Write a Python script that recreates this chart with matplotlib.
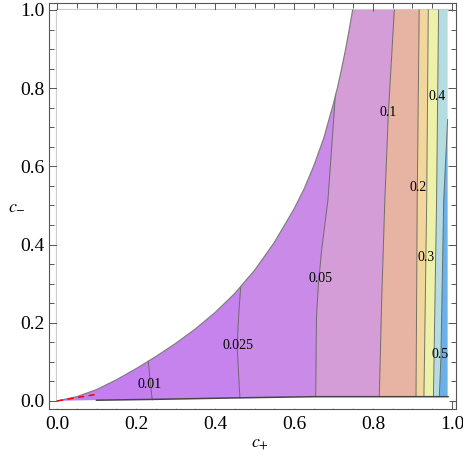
import numpy as np
import matplotlib
matplotlib.use("Agg")
import matplotlib.pyplot as plt

plt.rcParams['font.family'] = ['Liberation Serif', 'DejaVu Serif']
plt.rcParams['mathtext.fontset'] = 'stix'

# edge of the domain (above it the plot is empty)
edge_cp = [0, 0.05, 0.10, 0.15, 0.20, 0.25, 0.30, 0.35, 0.40, 0.45, 0.50,
           0.55, 0.60, 0.625, 0.65, 0.675, 0.70, 0.71, 0.72, 0.73, 0.74, 0.7485]
edge_cm = [0, 0.011, 0.029, 0.054, 0.0825, 0.1135, 0.147, 0.184, 0.226, 0.275, 0.334,
           0.405, 0.491, 0.541, 0.601, 0.671, 0.761, 0.801, 0.847, 0.896, 0.951, 1.0]
low_cp = [0, 0.10, 0.24, 0.46, 0.65, 0.99]
low_cm = [0, 0.002, 0.004, 0.008, 0.011, 0.011]

# contour lines: c+ positions at given c- values
levels = ['0.01', '0.025', '0.05', '0.1', '0.2', '0.3', '0.4', '0.5']
line_cp = [
    [0.241, 0.236, 0.231],
    [0.463, 0.456, 0.460, 0.465],
    [0.655, 0.657, 0.662, 0.670, 0.686, 0.705],
    [0.816, 0.822, 0.830, 0.839, 0.854],
    [0.909, 0.912, 0.917],
    [0.929, 0.936, 0.940],
    [0.953, 0.961, 0.966],
    [0.968, 0.972, 0.979, 0.989],
]
line_cm = [
    [0.003, 0.05, 0.102],
    [0.008, 0.14, 0.22, 0.292],
    [0.011, 0.217, 0.30, 0.386, 0.514, 0.785],
    [0.011, 0.258, 0.514, 0.737, 1.0],
    [0.011, 0.514, 1.0],
    [0.011, 0.514, 1.0],
    [0.011, 0.514, 1.0],
    [0.011, 0.113, 0.514, 0.72],
]
right_cp = [0.989, 0.989]
right_cm = [0.0, 1.0]

band_colors = ['#c47ef0', '#c683ee', '#c98ae8', '#d59dd8', '#e7b3a2',
               '#f3d69b', '#eef1a8', '#b5dce1', '#6cb0e8']

label_pos = [(0.235, 0.041), (0.458, 0.141), (0.666, 0.312), (0.838, 0.737),
             (0.914, 0.545), (0.934, 0.366), (0.962, 0.780), (0.970, 0.118)]

# red dashed segment near origin
red_cp = [0.0, 0.10]
red_cm = [0.0, 0.017]


def band_poly(ax_, ay_, bx_, by_):
    pts = list(zip(ax_, ay_)) + [(ax_[-1], 1.0), (bx_[-1], 1.0)]
    pts += list(zip(bx_, by_))[::-1]
    return np.array(pts)


def main():
    fig = plt.figure(figsize=(4.63, 4.55), dpi=100)
    ax = fig.add_axes([49 / 463, 46 / 455, 406.5 / 463, 406 / 455])

    # light frame of the plot range
    ax.plot([0, 0], [0, 1], color='#cccccc', lw=1.6, zorder=0.5)
    ax.plot([0, 1.0], [1, 1], color='#cccccc', lw=1.6, zorder=0.5)

    lefts = [([0, 0], [0, 1])] + list(zip(line_cp, line_cm))
    rights = list(zip(line_cp, line_cm)) + [(right_cp, right_cm)]
    for (lx, ly), (rx, ry), col in zip(lefts, rights, band_colors):
        p = band_poly(lx, ly, rx, ry)
        ax.fill(p[:, 0], p[:, 1], color=col, lw=0, zorder=1)

    # mask outside the domain
    mask = np.array(list(zip(edge_cp, edge_cm)) + [(0, 1.0)])
    ax.fill(mask[:, 0], mask[:, 1], color='white', lw=0, zorder=2)
    mlow = np.array(list(zip(low_cp, low_cm)) + [(1.0, -0.02), (0.0, -0.02)])
    ax.fill(mlow[:, 0], mlow[:, 1], color='white', lw=0, zorder=2)

    for x, y in zip(line_cp, line_cm):
        ax.plot(x, y, color='#555555', lw=0.7, alpha=0.8, zorder=3)
    ax.plot(edge_cp, edge_cm, color='#808080', lw=0.9, zorder=3)
    ax.plot(low_cp[1:], low_cm[1:], color='#444444', lw=1.1, zorder=3)
    ax.plot(red_cp, red_cm, color='red', lw=1.1, dashes=(4, 3), zorder=4)

    for lab, (x, y) in zip(levels, label_pos):
        ax.text(x, y, lab, fontsize=10, ha='center', va='center', zorder=5)

    ax.set_xlim(-0.0203, 1.0089)
    ax.set_ylim(-0.0205, 1.0179)
    ax.set_xticks(np.arange(0, 1.01, 0.2))
    ax.set_yticks(np.arange(0, 1.01, 0.2))
    ax.set_xticks(np.arange(0, 1.01, 0.05), minor=True)
    ax.set_yticks(np.arange(0, 1.01, 0.05), minor=True)
    ax.set_xticklabels(['0.0', '0.2', '0.4', '0.6', '0.8', '1.0'])
    ax.set_yticklabels(['0.0', '0.2', '0.4', '0.6', '0.8', '1.0'])
    ax.tick_params(which='both', direction='in', top=True, right=True,
                   color='#555555', width=0.7, labelsize=14)
    ax.tick_params(which='major', length=6)
    ax.tick_params(which='minor', length=3.5)
    ax.tick_params(axis='x', pad=5)
    ax.tick_params(axis='y', pad=3)
    for s in ax.spines.values():
        s.set_color('#555555')
        s.set_linewidth(0.8)

    ax.set_xlabel('$c_{+}$', fontsize=13)
    ax.set_ylabel('$c_{-}$', fontsize=13, rotation=0, ha='center', va='center')
    ax.xaxis.set_label_coords(0.52, -0.065)
    ax.yaxis.set_label_coords(-0.08, 0.50)

    fig.savefig('out.png', dpi=100)


if __name__ == '__main__':
    main()
